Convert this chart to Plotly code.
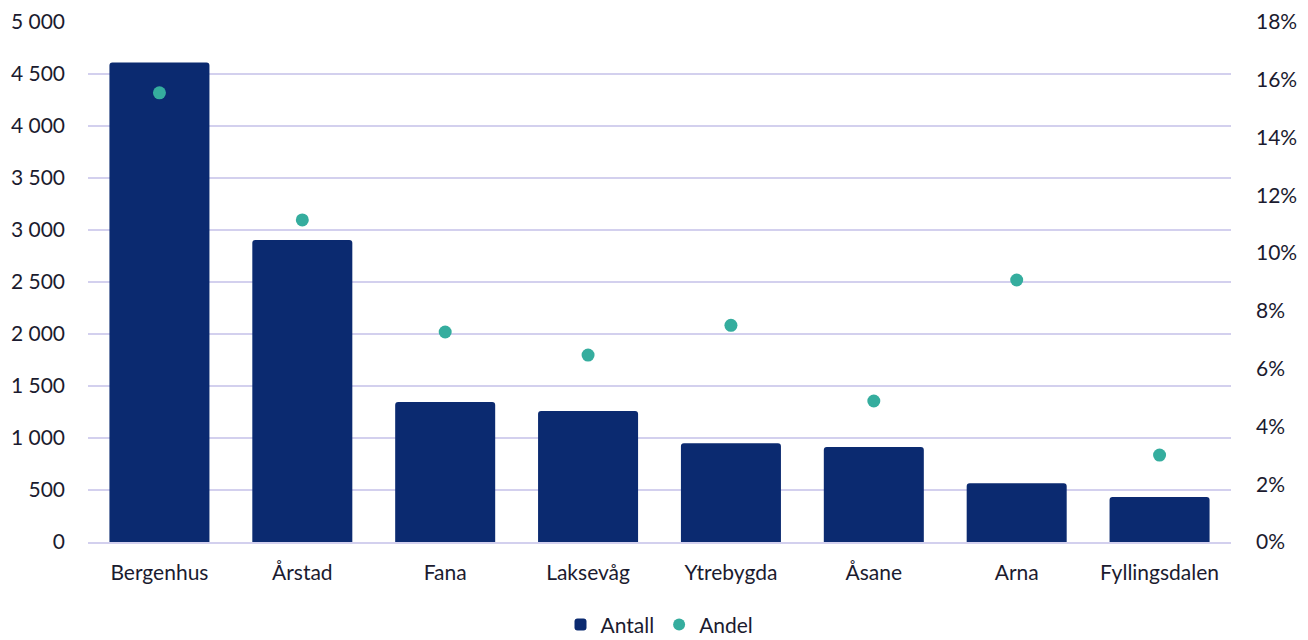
import plotly.graph_objects as go

categories = ["Bergenhus", "Årstad", "Fana", "Laksevåg", "Ytrebygda", "Åsane", "Arna", "Fyllingsdalen"]
antall = [4610, 2905, 1345, 1260, 950, 913, 565, 433]
andel = [15.55, 11.15, 7.27, 6.47, 7.5, 4.88, 9.07, 3.01]

font_family = "Lato, Open Sans, sans-serif"
text_color = "#1b1b2f"
grid_color = "#d3d0ee"
fs = 21

fig = go.Figure()
fig.add_trace(go.Bar(
    x=categories, y=antall, name="Antall",
    marker=dict(color="#0b2a70", line=dict(width=0)),
    yaxis="y",
))
fig.add_trace(go.Scatter(
    x=categories, y=andel, name="Andel", mode="markers",
    marker=dict(color="#35ad9e", size=13, symbol="circle"),
    yaxis="y2",
))

fig.update_layout(
    width=1300, height=632,
    margin=dict(l=80, r=77, t=14, b=98, autoexpand=False),
    plot_bgcolor="white", paper_bgcolor="white",
    font=dict(family=font_family, size=fs, color=text_color),
    separators=", ",
    bargap=0.3,
    barcornerradius=3,
    showlegend=True,
    legend=dict(orientation="h", x=0.5, xanchor="center", yref="container", y=0.024,
                yanchor="middle", font=dict(size=fs), itemsizing="constant",
                traceorder="normal", itemwidth=30, tracegroupgap=0),
    xaxis=dict(showgrid=False, showline=True, linecolor=grid_color, linewidth=2,
               ticks="", tickfont=dict(size=fs), ticklabelstandoff=11, automargin=False),
    yaxis=dict(range=[0, 5000], dtick=500, tickformat=",d", showgrid=True,
               gridcolor=grid_color, gridwidth=2, zeroline=False, showline=False,
               ticks="", ticklabelstandoff=22, tickfont=dict(size=fs), automargin=False),
    yaxis2=dict(range=[0, 18], dtick=2, ticksuffix="%", overlaying="y", side="right",
                showgrid=False, zeroline=False, showline=False, ticks="",
                ticklabelstandoff=24, tickfont=dict(size=fs), automargin=False),
)

fig.write_html("out.html")
